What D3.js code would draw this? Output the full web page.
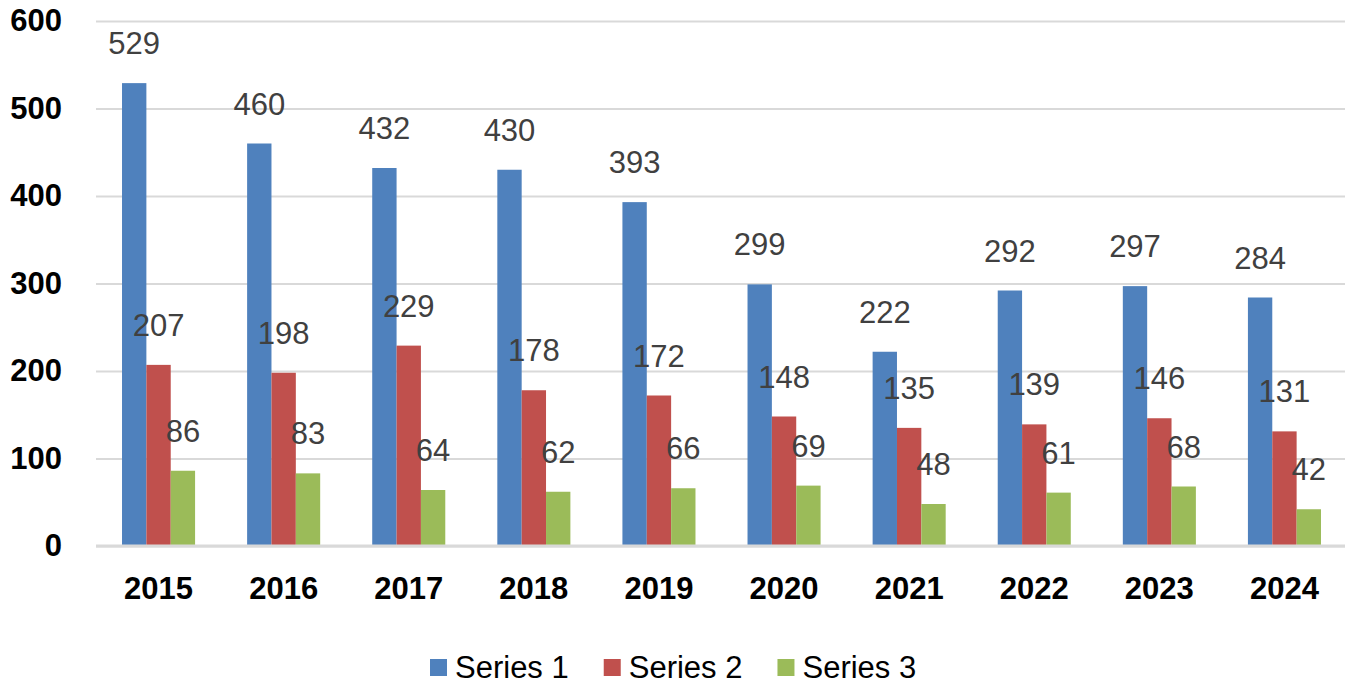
<!DOCTYPE html>
<html>
<head>
<meta charset="utf-8">
<script src="https://cdn.jsdelivr.net/npm/d3@7"></script>
<style>
  html, body { margin: 0; padding: 0; background: #fff; }
  svg { display: block; font-family: "Liberation Sans", Arial, sans-serif; }
</style>
</head>
<body>
<svg id="chart" width="1345" height="680"></svg>
<script>
const years = ["2015","2016","2017","2018","2019","2020","2021","2022","2023","2024"];
const seriesNames = ["Series 1","Series 2","Series 3"];
const series1 = [529,460,432,430,393,299,222,292,297,284];
const series2 = [207,198,229,178,172,148,135,139,146,131];
const series3 = [86,83,64,62,66,69,48,61,68,42];
const yTicks = [0,100,200,300,400,500,600];
const colors = ["#4f81bd","#c0504d","#9bbb59"];

const allSeries = [series1, series2, series3];

var svg = d3.select("#chart");

// plot area (window.top is reserved, so own names)
var plotLeft = 96, plotRight = 1347, plotTop = 21, plotBottom = 546;

// scales
var x = d3.scaleBand().domain(years).range([plotLeft, plotRight])
  .paddingInner(0.416).paddingOuter(0.208);
var x1 = d3.scaleBand().domain(seriesNames).range([0, x.bandwidth()]);
var y = d3.scaleLinear().domain([0, 600]).range([plotBottom, plotTop]);

// gridlines + y labels
var yAxis = svg.append("g")
  .attr("transform", "translate(" + plotLeft + ",0)")
  .call(d3.axisLeft(y).tickValues(yTicks).tickSize(-(1345 - plotLeft)).tickPadding(34));
yAxis.select(".domain").remove();
yAxis.selectAll("line").attr("stroke", "#d9d9d9").attr("stroke-width", 2);
yAxis.selectAll("text")
  .style("font-size", "31px").style("font-weight", "bold").attr("fill", "#000");

// bars
allSeries.forEach(function(vals, si) {
  var g = svg.append("g").attr("fill", colors[si]);
  g.selectAll("rect")
    .data(vals)
    .join("rect")
    .attr("x", function(d, i) { return x(years[i]) + x1(seriesNames[si]); })
    .attr("y", function(d) { return y(d); })
    .attr("width", x1.bandwidth())
    .attr("height", function(d) { return y(0) - y(d); });
});

// data labels, drawn after all bars so they sit on top
allSeries.forEach(function(vals, si) {
  svg.append("g").selectAll("text")
    .data(vals)
    .join("text")
    .attr("x", function(d, i) { return x(years[i]) + x1(seriesNames[si]) + x1.bandwidth() / 2; })
    .attr("y", function(d) { return y(d) - 29; })
    .attr("text-anchor", "middle")
    .attr("fill", "#404040")
    .style("font-size", "31px")
    .text(function(d) { return d; });
});

// x axis
var xAxis = svg.append("g")
  .attr("transform", "translate(0," + plotBottom + ")")
  .call(d3.axisBottom(x).tickSize(0).tickPadding(31));
xAxis.select(".domain").remove();
xAxis.append("line")
  .attr("x1", plotLeft).attr("x2", 1345)
  .attr("stroke", "#d9d9d9").attr("stroke-width", 3);
xAxis.selectAll("text")
  .style("font-size", "31px").style("font-weight", "bold").attr("fill", "#000");

// legend
var lx = 430;
seriesNames.forEach(function(name, i) {
  svg.append("rect")
    .attr("x", lx).attr("y", 659)
    .attr("width", 17).attr("height", 17)
    .attr("fill", colors[i]);
  var t = svg.append("text")
    .attr("x", lx + 25).attr("y", 678)
    .attr("fill", "#000")
    .style("font-size", "31px")
    .text(name);
  lx += 25 + t.node().getComputedTextLength() + 35;
});
</script>
</body>
</html>
